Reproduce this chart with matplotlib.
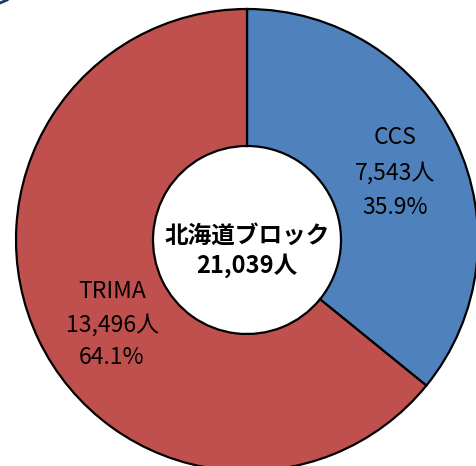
import matplotlib
matplotlib.use("Agg")
import matplotlib.pyplot as plt

plt.rcParams['font.family'] = ['Noto Sans CJK JP', 'DejaVu Sans']

# data
block_name = "北海道ブロック"
names = ["CCS", "TRIMA"]
counts = [7543, 13496]
colors = ["#4F81BD", "#C0504D"]

total = sum(counts)
pcts = [c / total * 100 for c in counts]

W, H = 476, 466
fig = plt.figure(figsize=(W / 100, H / 100), dpi=100)
ax = fig.add_axes([0, 0, 1, 1])
ax.set_xlim(0, W)
ax.set_ylim(0, H)
ax.set_aspect("equal")
ax.axis("off")

cx, cy = 247, H - 240
r_out, r_in = 231, 94

ax.pie(counts, colors=colors, startangle=90, counterclock=False,
       center=(cx, cy), radius=r_out, frame=True,
       wedgeprops=dict(width=r_out - r_in, edgecolor="black", linewidth=1.6))
ax.set_xlim(0, W)
ax.set_ylim(0, H)
ax.axis("off")

# labels in the ring
label_pos = [(395, H - 138), (112, H - 292)]
gaps = [35, 33]
for (x, y), nm, c, p, g in zip(label_pos, names, counts, pcts, gaps):
    ax.text(x, y, nm, ha="center", va="center", fontsize=16.5)
    ax.text(x, y - g, f"{c:,}人", ha="center", va="center", fontsize=16.5)
    ax.text(x, y - 2 * g, f"{p:.1f}%", ha="center", va="center", fontsize=16.5)

# centre
ax.text(cx, H - 236, block_name, ha="center", va="center", fontsize=17, fontweight="bold")
ax.text(cx, H - 266, f"{total:,}人", ha="center", va="center", fontsize=17, fontweight="bold")

# bit of frame at the top-left corner
ax.plot([0, 7], [H - 3, H], color="#1F3864", lw=2)

fig.savefig("out.png", dpi=100)
